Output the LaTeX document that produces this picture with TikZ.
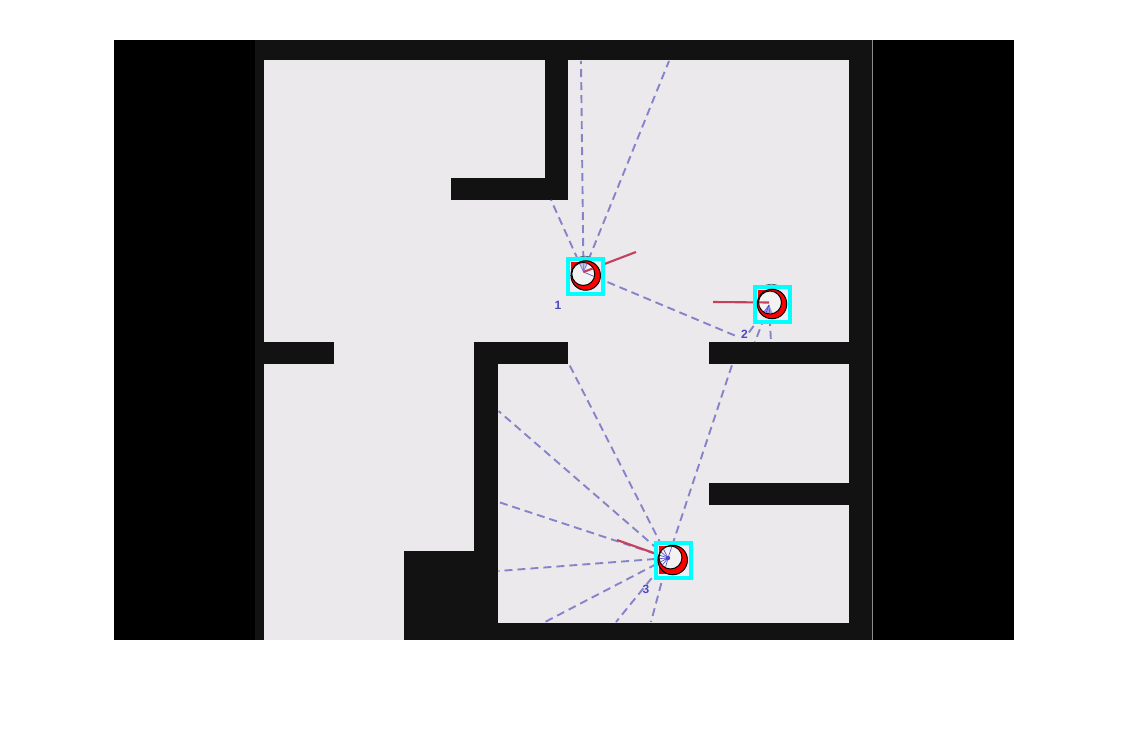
\documentclass[tikz,border=0pt]{standalone}
\usepackage{fontspec}
\setmainfont{Liberation Sans}
\definecolor{wallc}{HTML}{131213}
\definecolor{floorc}{HTML}{EBE9EB}
\definecolor{rayc}{HTML}{8684C8}
\definecolor{headc}{HTML}{C4405C}
\definecolor{numc}{HTML}{4A48C0}
\definecolor{boxc}{HTML}{00FFFF}
\definecolor{fanc}{HTML}{4A44D0}
\tikzset{
  ray/.style={draw=rayc,line width=1.9pt,dash pattern=on 8pt off 5pt},
  spoke/.style={draw=fanc,line width=0.6pt},
  heading/.style={draw=headc,line width=2.1pt},
  wall/.style={fill=wallc,draw=none},
  numlabel/.style={text=numc,font=\bfseries\fontsize{12}{13}\selectfont,inner sep=0pt},
  robotbox/.style={draw=boxc,line width=4pt,minimum size=35pt,inner sep=0pt,fill=floorc!85!fanc!40},
  robotring/.style={circle,draw=black,line width=1pt,fill=red,minimum size=29.5pt,inner sep=0pt},
  robotcore/.style={circle,draw=black,line width=1pt,fill=floorc!60!white,minimum size=23pt,inner sep=0pt},
  halo/.style={circle,draw=black!60!cyan,line width=0.7pt,minimum size=36.5pt,inner sep=0pt},
}
\begin{document}
\begin{tikzpicture}[x=1pt,y=-1pt]
\useasboundingbox (0,0) rectangle (1130,741);
\fill[white] (0,0) rectangle (1130,741);
\fill[black] (114,40) rectangle (1014,640);
\fill[wallc] (255,40) rectangle (872,640);
\draw[black!45,line width=0.6pt] (872.3,40) -- (872.3,640);
\fill[floorc] (264,60) rectangle (849,640);
% walls
\fill[wall] (545,60) rectangle (568,200);
\fill[wall] (451,178) rectangle (568,200);
\fill[wall] (255,342) rectangle (334,364);
\fill[wall] (474,342) rectangle (568,364);
\fill[wall] (474,342) rectangle (498,640);
\fill[wall] (404,551) rectangle (498,640);
\fill[wall] (709,342) rectangle (849,364);
\fill[wall] (709,483) rectangle (849,505);
\fill[wall] (498,623) rectangle (849,640);
% ray end points
\coordinate (a1) at (581,61);
\coordinate (a2) at (669,61);
\coordinate (a3) at (551,200);
\coordinate (a4) at (736,336);
\coordinate (b1) at (755,342);
\coordinate (b2) at (771,342);
\coordinate (b3) at (747,335);
\coordinate (c1) at (569,364);
\coordinate (c2) at (498.5,411);
\coordinate (c3) at (498.5,502);
\coordinate (c4) at (498.5,571);
\coordinate (c5) at (545,622);
\coordinate (c6) at (616,622);
\coordinate (c7) at (651,622);
\coordinate (c8) at (732,365);
\coordinate (h1) at (636,252);
\coordinate (h2) at (713,302);
\coordinate (h3) at (617,540);
\coordinate (pA) at (583.5,272);
\coordinate (pB) at (769,305);
\coordinate (qB) at (769,302.5);
\coordinate (pC) at (668,558);
% rays and headings, beneath the robots
\foreach \p in {a1,a2,a3,a4} \draw[ray] (pA) -- (\p);
\foreach \p in {b1,b2,b3} \draw[ray] (pB) -- (\p);
\foreach \p in {c1,c2,c3,c4,c5,c6,c7,c8} \draw[ray] (pC) -- (\p);
\draw[heading] (pA) -- (h1);
\draw[heading] (qB) -- (h2);
\draw[heading] (pC) -- (h3);
% robot 1
\node[halo] (haloA) at (585,274.5) {};
\node[robotbox] (boxA) at (585.5,276.5) {};
\fill[red] (571,262) rectangle (580,270);
\node[robotring] (ringA) at (585.7,275.5) {};
\node[robotcore] (coreA) at (583.3,274) {};
\begin{scope}
\clip (coreA.center) circle (11);
\foreach \p in {a1,a2,a3,a4} \draw[spoke] (pA) -- (\p);
\fill[fanc!50,opacity=0.6] (pA) -- ++(-5,-9) -- ++(10,0) -- cycle;
\draw[heading] (pA) -- (h1);
\end{scope}
% robot 2
\node[halo] (haloB) at (771.5,302.5) {};
\node[robotbox] (boxB) at (772.5,304) {};
\fill[red] (758,290) rectangle (765,297);
\node[robotring] (ringB) at (772,304) {};
\node[robotcore] (coreB) at (770,302.5) {};
\begin{scope}
\clip (coreB.center) circle (11);
\fill[fanc!70,opacity=0.7] (pB) -- (762,316) -- (774,316) -- cycle;
\foreach \p in {b1,b2,b3} \draw[spoke] (pB) -- (\p);
\draw[heading] (qB) -- (h2);
\end{scope}
% robot 3
\node[robotbox] (boxC) at (673,560) {};
\fill[red] (659,546) rectangle (666,553);
\fill[red] (659,567) rectangle (666,574);
\node[robotring] (ringC) at (672.7,560) {};
\node[robotcore] (coreC) at (670.5,557.5) {};
\begin{scope}
\clip (coreC.center) circle (11);
\foreach \p in {c1,c2,c3,c4,c5,c6,c7,c8} \draw[spoke] (pC) -- (\p);
\fill[fanc] (pC) circle (2.2);
\end{scope}
% labels
\node[numlabel] (n1) at (558,305) {1};
\node[numlabel] (n2) at (744.5,334) {2};
\node[numlabel] (n3) at (646,589) {3};
\end{tikzpicture}
\end{document}
